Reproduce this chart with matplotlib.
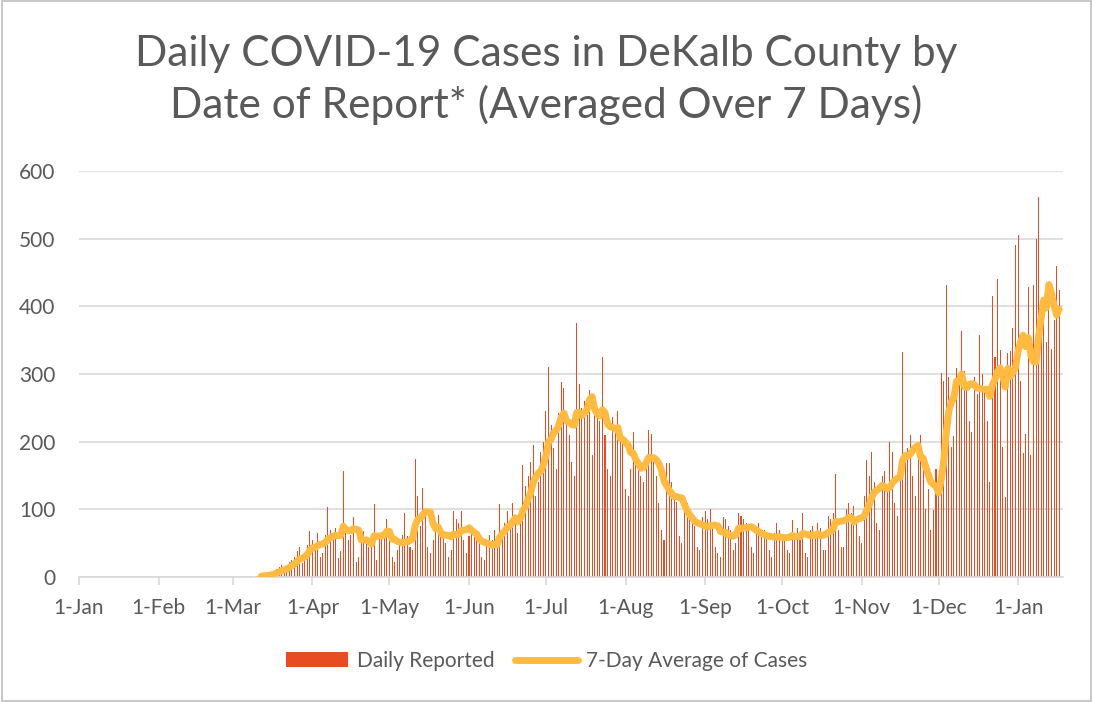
import numpy as np
import pandas as pd
import matplotlib
matplotlib.use("Agg")
import matplotlib.pyplot as plt
from matplotlib.patches import Rectangle

# daily reported cases (Mar 6 2020 .. Jan 17 2021)
mar = [0, 0, 1, 0, 2, 1, 3, 5, 2, 4, 6, 8, 12, 15, 18, 10, 14, 22, 25, 30, 38, 45, 20, 28, 48, 68]
apr = [55, 42, 65, 30, 35, 62, 103, 70, 58, 72, 28, 38, 157, 70, 55, 62, 89, 22,
       30, 55, 68, 58, 45, 62, 108, 25, 60, 65, 70, 85]
may = [58, 30, 22, 40, 55, 62, 94, 60, 45, 40, 174, 120, 75, 131, 90, 45,
       35, 55, 68, 92, 75, 60, 50, 30, 40, 97, 85, 80, 97, 55, 35]
jun = [60, 72, 65, 58, 50, 30, 25, 48, 62, 55, 70, 45, 108, 60, 80, 97, 72, 110, 85, 65,
       95, 165, 135, 150, 170, 195, 120, 140, 185, 200]
jul = [245, 310, 225, 190, 160, 242, 288, 279, 230, 210, 170, 150, 375, 285, 250, 260, 240, 276,
       180, 243, 236, 230, 325, 210, 160, 150, 236, 220, 245, 212, 200]
aug = [130, 120, 160, 214, 180, 170, 150, 140, 165, 217, 212, 180, 150, 110, 70,
       55, 168, 168, 140, 120, 111, 60, 50, 97, 110, 95, 88, 75, 45, 40, 88]
sep = [97, 85, 100, 80, 45, 35, 30, 88, 85, 75, 70, 40, 50, 95, 90, 85, 80, 75, 45,
       35, 70, 80, 65, 70, 62, 40, 30, 65, 80, 70]
oct_ = [62, 60, 40, 35, 84, 65, 72, 60, 94, 35, 30, 70, 75, 65, 80, 72, 40,
        40, 90, 85, 95, 152, 70, 45, 45, 100, 110, 95, 105, 90, 60]
nov = [50, 120, 173, 150, 185, 140, 80, 70, 150, 157, 130, 200, 185, 110,
       90, 160, 332, 180, 190, 210, 150, 120, 180, 210, 170, 100, 130, 69, 99, 160]
dec = [142, 301, 290, 431, 295, 192, 209, 309, 300, 363, 305, 279, 230, 214, 295, 270,
       357, 300, 276, 230, 140, 416, 325, 440, 335, 192, 118, 331, 334, 368, 490]
jan = [505, 290, 183, 212, 428, 180, 431, 500, 562, 365, 400, 347, 420, 337, 380, 460, 424]

month_ticks = ["1-Jan", "1-Feb", "1-Mar", "1-Apr", "1-May", "1-Jun", "1-Jul",
               "1-Aug", "1-Sep", "1-Oct", "1-Nov", "1-Dec", "1-Jan"]

daily = mar + apr + may + jun + jul + aug + sep + oct_ + nov + dec + jan
dates = pd.date_range("2020-03-06", periods=len(daily), freq="D")
s = pd.Series(daily, index=dates)
avg7 = s.rolling(7, min_periods=7).mean()

start = pd.Timestamp("2020-01-01")
x = (dates - start).days.values.astype(float)
tick_pos = [(pd.Timestamp(f"2020-{m:02d}-01") - start).days for m in range(1, 13)]
tick_pos.append((pd.Timestamp("2021-01-01") - start).days)

bar_color = "#E84C22"
line_color = "#FFBA42"
grey = "#595959"
plt.rcParams["font.family"] = ["Lato", "DejaVu Sans"]

fig = plt.figure(figsize=(10.93, 7.02), dpi=100)
ax = fig.add_axes([79 / 1093, 1 - 577 / 702, (1063 - 79) / 1093, (577 - 171) / 702])

bars = ax.bar(x, daily, width=0.4, color=bar_color, linewidth=0, label="Daily Reported", zorder=2)
line, = ax.plot(x, avg7.values, color=line_color, linewidth=5, label="7-Day Average of Cases",
                zorder=3, solid_capstyle="round")

ax.set_xlim(0, 383.5)
ax.set_ylim(0, 600)
ax.set_yticks(np.arange(0, 601, 100))
ax.set_xticks(tick_pos)
ax.set_xticklabels(month_ticks)
ax.grid(axis="y", color="#D9D9D9", linewidth=1.2, zorder=0)
ax.set_axisbelow(True)
for side in ["top", "right", "left"]:
    ax.spines[side].set_visible(False)
ax.spines["bottom"].set_color("#D9D9D9")
ax.spines["bottom"].set_linewidth(1.2)
ax.tick_params(axis="y", length=0, pad=17, labelsize=15, labelcolor=grey)
ax.tick_params(axis="x", length=6, color="#D9D9D9", width=1.2, pad=9,
               labelsize=15, labelcolor=grey)

fig.text(0.5, 1 - 80 / 702, "Daily COVID-19 Cases in DeKalb County by\nDate of Report* (Averaged Over 7 Days)",
         ha="center", va="center", fontsize=30.5, color=grey, linespacing=1.38)

leg = fig.legend(handles=[bars, line], loc="center", bbox_to_anchor=(0.5, 1 - 661 / 702), ncol=2,
                 frameon=False, fontsize=15, handlelength=3.0, handleheight=0.7,
                 handletextpad=0.4, columnspacing=1.0)
for t in leg.get_texts():
    t.set_color(grey)

fig.patches.append(Rectangle((0.002, 0.002), 0.996, 0.996, transform=fig.transFigure,
                             fill=False, edgecolor="#BFBFBF", linewidth=1.2))

fig.savefig("out.png", dpi=100)
